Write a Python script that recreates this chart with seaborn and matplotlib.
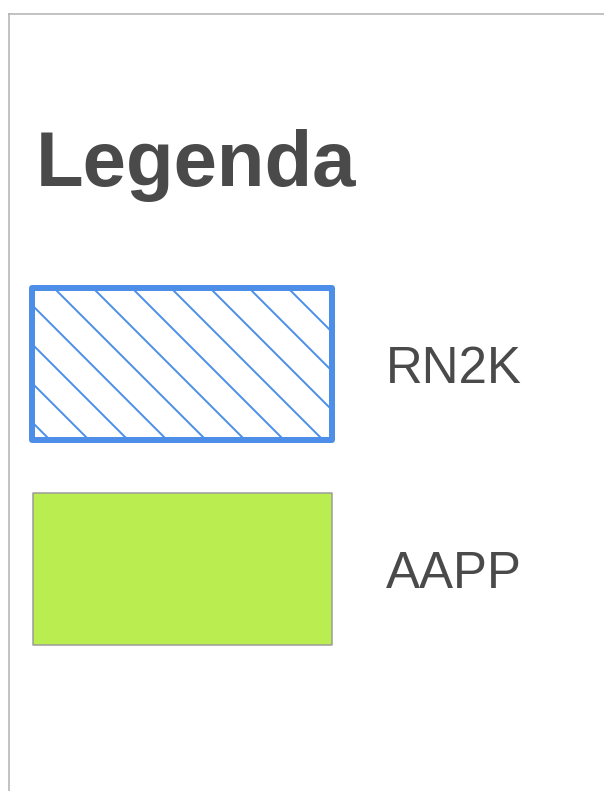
import matplotlib
matplotlib.use("Agg")
import matplotlib.pyplot as plt
from matplotlib.patches import Rectangle
import seaborn as sns

# Data
title = "Legenda"
categories = ["RN2K", "AAPP"]
face_colors = ["#ffffff", "#b9ed50"]
edge_colors = ["#4d8fe8", "#9a9a9a"]
hatches = ["\\\\", ""]

sns.set_theme(style="white")
plt.rcParams["font.family"] = ["Liberation Sans", "DejaVu Sans"]
plt.rcParams["hatch.linewidth"] = 0.6

DPI = 234
W, H = 604, 791
fig = plt.figure(figsize=(W / DPI, H / DPI), dpi=DPI)
ax = fig.add_axes([0, 0, 1, 1])
ax.set_xlim(0, W)
ax.set_ylim(H, 0)
ax.axis("off")

px2pt = 72 / DPI

# frame lines (top and left)
ax.plot([8, W], [13.5, 13.5], color="#b5b5b5", lw=1.6 * px2pt, solid_capstyle="butt")
ax.plot([8.5, 8.5], [13, H], color="#b5b5b5", lw=1.6 * px2pt, solid_capstyle="butt")

ax.text(36, 186, title, fontsize=78 * px2pt, fontweight="bold", color="#4a4a4a",
        va="baseline", ha="left")

# swatch layout
swatches = [
    dict(x=32, y=288, w=300, h=152, lw=6.0),
    dict(x=33, y=493, w=299, h=152, lw=1.5),
]
label_baselines = [383, 588]

for cat, fc, ec, ht, sw, bl in zip(categories, face_colors, edge_colors, hatches, swatches, label_baselines):
    r = Rectangle((sw["x"], sw["y"]), sw["w"], sw["h"], facecolor=fc, edgecolor=ec,
                  hatch=ht if ht else None, linewidth=sw["lw"] * px2pt, joinstyle="round")
    ax.add_patch(r)
    ax.text(386, bl, cat, fontsize=51 * px2pt, color="#4a4a4a", va="baseline", ha="left")

fig.savefig("out.png", dpi=DPI)
